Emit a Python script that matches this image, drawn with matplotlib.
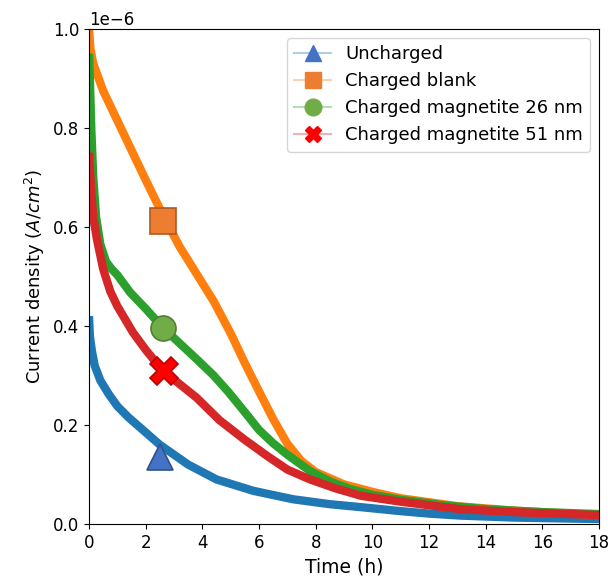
import numpy as np
import matplotlib
matplotlib.use('Agg')
import matplotlib.pyplot as plt
from matplotlib.lines import Line2D
from matplotlib.colors import to_rgba

# decay curves, time in h, current density in 1e-6 A/cm2
t_unch = [0, 0.03, 0.1, 0.2, 0.4, 0.7, 1.0, 1.4, 2.0, 2.5, 3.0, 3.5, 4.5, 5.8, 7.2, 8.5, 9.6, 11, 12, 13.1, 15, 18]
j_unch = [0.42, 0.38, 0.35, 0.32, 0.29, 0.262, 0.238, 0.215, 0.185, 0.16, 0.14, 0.12, 0.09, 0.067, 0.05, 0.04, 0.034, 0.026, 0.021, 0.017, 0.013, 0.01]

t_blank = [0, 0.05, 0.15, 0.5, 1.0, 1.5, 2.0, 2.6, 3.2, 3.8, 4.4, 5.0, 5.5, 6.0, 6.5, 7.0, 7.5, 8.0, 9, 10, 11, 13, 15, 18]
j_blank = [1.0, 0.96, 0.93, 0.875, 0.815, 0.755, 0.695, 0.625, 0.56, 0.505, 0.45, 0.385, 0.325, 0.268, 0.212, 0.162, 0.127, 0.105, 0.08, 0.065, 0.052, 0.036, 0.027, 0.018]

t_m26 = [0, 0.03, 0.08, 0.15, 0.25, 0.4, 0.6, 0.8, 1.0, 1.45, 2.0, 2.6, 3.2, 3.8, 4.4, 4.9, 5.5, 6.0, 6.5, 7.0, 7.8, 8.5, 9.2, 10, 11, 12.5, 14, 16, 18]
j_m26 = [0.95, 0.9, 0.8, 0.7, 0.62, 0.565, 0.53, 0.515, 0.503, 0.468, 0.435, 0.397, 0.365, 0.333, 0.3, 0.268, 0.226, 0.19, 0.163, 0.14, 0.107, 0.086, 0.071, 0.059, 0.049, 0.038, 0.03, 0.024, 0.02]

t_m51 = [0, 0.03, 0.08, 0.15, 0.28, 0.5, 0.75, 1.0, 1.55, 2.0, 2.6, 3.3, 3.8, 4.6, 5.5, 6.3, 7.0, 7.8, 8.7, 9.6, 11, 13.1, 15, 18]
j_m51 = [0.75, 0.72, 0.67, 0.62, 0.575, 0.515, 0.47, 0.44, 0.387, 0.352, 0.31, 0.278, 0.255, 0.21, 0.17, 0.137, 0.11, 0.09, 0.072, 0.057, 0.045, 0.03, 0.024, 0.018]

# highlighted points
mk_t = [2.5, 2.62, 2.6, 2.64]
mk_j = [0.136, 0.613, 0.395, 0.31]

labels = ['Uncharged', 'Charged blank', 'Charged magnetite 26 nm', 'Charged magnetite 51 nm']
line_cols = ['tab:blue', 'tab:orange', 'tab:green', 'tab:red']
mk_cols = ['#4472C4', '#ED7D31', '#70AD47', '#FF0000']
mk_edges = ['#2F528F', '#AE5A21', '#507E32', '#C00000']
mk_shapes = ['^', 's', 'o', 'X']
mk_sizes = [19, 19, 18, 20]

plt.rcParams['font.size'] = 12

fig = plt.figure(figsize=(6.08, 5.83), dpi=100)
ax = fig.add_axes([0.1464, 0.1012, 0.8388, 0.8491])

curves = [(t_unch, j_unch), (t_blank, j_blank), (t_m26, j_m26), (t_m51, j_m51)]
for (tt, jj), c in zip(curves, line_cols):
    ax.plot(tt, np.array(jj) * 1e-6, color=c, lw=6, solid_capstyle='butt',
            solid_joinstyle='round')

for i in range(4):
    ax.plot(mk_t[i], mk_j[i] * 1e-6, marker=mk_shapes[i], ms=mk_sizes[i],
            mfc=mk_cols[i], mec=mk_edges[i], mew=1.2, ls='none', zorder=5)

handles = [Line2D([0], [0], color=to_rgba(line_cols[i], 0.35), lw=1.5,
                  marker=mk_shapes[i], ms=12, mfc=mk_cols[i], mec=mk_cols[i])
           for i in range(4)]
ax.legend(handles, labels, loc='upper right', fontsize=13)

ax.set_xlim(0, 18)
ax.set_ylim(0, 1e-6)
ax.set_xticks(np.arange(0, 19, 2))
ax.set_xlabel('Time (h)', fontsize=13.5)
ax.set_ylabel(r'Current density ($A/cm^2$)', fontsize=13)

fig.savefig('out.png', dpi=100)
